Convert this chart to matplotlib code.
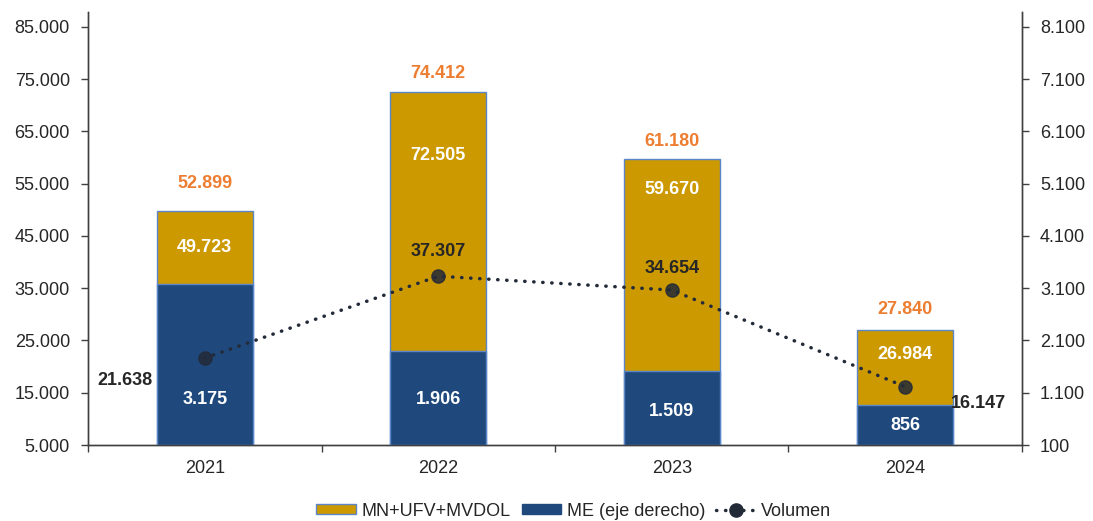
import matplotlib
matplotlib.use("Agg")
import matplotlib.pyplot as plt
from matplotlib.ticker import FixedLocator, FuncFormatter
from matplotlib.patches import Patch
from matplotlib.lines import Line2D

plt.rcParams['font.family'] = ['Liberation Sans', 'DejaVu Sans']

years = ["2021", "2022", "2023", "2024"]
mn_ufv_mvdol = [49723, 72505, 59670, 26984]
me = [3175, 1906, 1509, 856]
totals = [52899, 74412, 61180, 27840]
volumen = [21638, 37307, 34654, 16147]

GOLD = "#CC9900"
BLUE = "#1F497D"
EDGE = "#5B87C9"
ORANGE = "#ED7D31"
DARK = "#262626"
LINEC = "#232A38"

def fmt(v, pos=None):
    return f"{v:,.0f}".replace(",", ".")

fig = plt.figure(figsize=(10.93, 5.21), dpi=100)
ax = fig.add_axes([88/1093, 1-445/521, (1022-88)/1093, (445-12)/521])
ax2 = ax.twinx()
ax3 = ax.twinx()

x = list(range(len(years)))
w = 0.41

ax.bar(x, [v - 5000 for v in mn_ufv_mvdol], bottom=5000, width=w, color=GOLD,
       edgecolor=EDGE, linewidth=1)
ax2.bar(x, [v - 100 for v in me], bottom=100, width=w, color=BLUE,
        edgecolor=EDGE, linewidth=1)

ax.set_ylim(5000, 87870)
ax2.set_ylim(100, 8387)
ax3.set_ylim(5000, 87870)
ax.set_xlim(-0.5, 3.5)

ax3.plot(x, volumen, color=LINEC, linewidth=2.5, linestyle=(0, (0.1, 2.5)),
         dash_capstyle='round')
ax3.plot(x, volumen, linestyle='none', marker='o', markersize=9.5,
         color=LINEC, alpha=0.85)
ax3.axis('off')

# Axis formatting
ax.yaxis.set_major_locator(FixedLocator(range(5000, 85001, 10000)))
ax.yaxis.set_major_formatter(FuncFormatter(fmt))
ax2.yaxis.set_major_locator(FixedLocator(range(100, 8101, 1000)))
ax2.yaxis.set_major_formatter(FuncFormatter(fmt))
ax.set_xticks(x)
ax.set_xticklabels(years)
ax.set_xticks([-0.5, 0.5, 1.5, 2.5, 3.5], minor=True)

for a in (ax, ax2):
    a.spines['top'].set_visible(False)
    for s in a.spines.values():
        s.set_color("#404040")
        s.set_linewidth(1.0)
    a.tick_params(axis='y', labelsize=13, colors="#404040", labelcolor=DARK,
                  length=5, width=1, direction='out', pad=8)
ax.tick_params(axis='x', which='major', length=0, labelsize=13, labelcolor=DARK, pad=11)
ax.tick_params(axis='x', which='minor', length=5, width=1, color="#404040", direction='out')

# Labels
gold_off = [36, 63, 30, 24]
for i, v in enumerate(mn_ufv_mvdol):
    ax.annotate(fmt(v), (x[i], v), xytext=(0, -gold_off[i]), textcoords='offset pixels',
                ha='center', va='center', color='white', fontsize=13, fontweight='bold')

blue_off = [45, 45, 34, 20]
for i, v in enumerate(me):
    ax2.annotate(fmt(v), (x[i], 100), xytext=(0, blue_off[i]), textcoords='offset pixels',
                 ha='center', va='center', color='white', fontsize=13, fontweight='bold')

tot_off = [28, 19, 18, 21]
for i, v in enumerate(totals):
    ax.annotate(fmt(v), (x[i], mn_ufv_mvdol[i]), xytext=(0, tot_off[i]),
                textcoords='offset pixels', ha='center', va='center',
                color=ORANGE, fontsize=13, fontweight='bold')

vol_off = [(-80, -22), (0, 25), (0, 22), (73, -17)]
for i, v in enumerate(volumen):
    ax3.annotate(fmt(v), (x[i], v), xytext=vol_off[i], textcoords='offset pixels',
                 ha='center', va='center', color=DARK, fontsize=13, fontweight='bold')

handles = [
    Patch(facecolor=GOLD, edgecolor=EDGE, linewidth=1),
    Patch(facecolor=BLUE, edgecolor=BLUE, linewidth=1),
    Line2D([0], [0], color=LINEC, linewidth=2.5, linestyle=(0, (0.1, 2.5)),
           dash_capstyle='round', marker='o', markersize=9.5, markerfacecolor=LINEC,
           markeredgecolor=LINEC),
]
labels = ["MN+UFV+MVDOL", "ME (eje derecho)", "Volumen"]
fig.legend(handles, labels, loc='center', bbox_to_anchor=(0.525, 1 - 511/521),
           ncol=3, frameon=False, fontsize=13, handlelength=2.2, handleheight=0.45,
           columnspacing=0.6, handletextpad=0.3, labelcolor=DARK)

fig.savefig("out.png", dpi=100)
